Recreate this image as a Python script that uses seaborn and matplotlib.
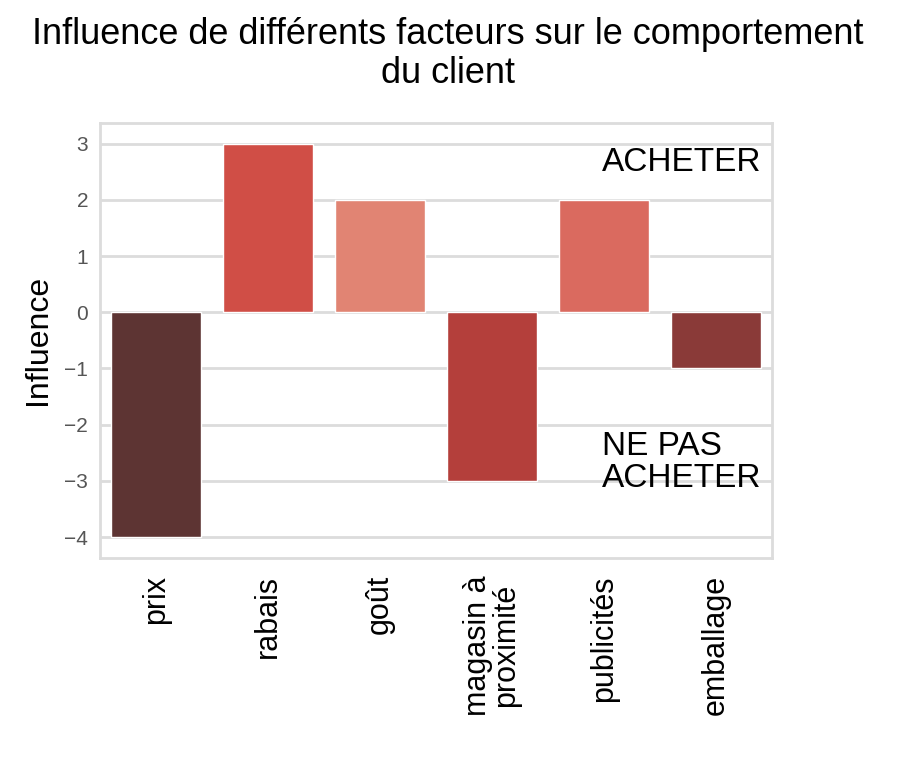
import pandas as pd
import matplotlib.pyplot as plt
import seaborn as sns

facteurs = ["prix", "rabais", "goût", "magasin à\nproximité", "publicités", "emballage"]
influence = [-4, 3, 2, -3, 2, -1]
couleurs = ["#5d3433", "#d04e46", "#e18473", "#b43f3b", "#da6a5f", "#8a3a38"]

df = pd.DataFrame({"facteur": facteurs, "influence": influence})

sns.set_style("whitegrid", {"grid.color": "#dcdcdc", "axes.edgecolor": "#dcdcdc",
                            "text.color": "black", "axes.labelcolor": "black"})
plt.rcParams["font.family"] = ["Liberation Sans", "DejaVu Sans"]

fig = plt.figure(figsize=(9, 7.78), dpi=100)
ax = fig.add_axes([0.111, 0.283, 0.747, 0.559])

sns.barplot(data=df, x="facteur", y="influence", hue="facteur",
            palette=dict(zip(facteurs, couleurs)), legend=False, ax=ax,
            width=0.8, saturation=1)

ax.grid(True, axis="y", linewidth=2)
ax.grid(False, axis="x")
for s in ax.spines.values():
    s.set_linewidth(2)
ax.set_xlim(-0.5, 5.5)
ax.set_ylim(-4.37, 3.37)
ax.set_yticks(range(-4, 4))

ax.tick_params(axis="y", labelsize=15, labelcolor="#555555", pad=5)
ax.tick_params(axis="x", labelsize=22, labelcolor="black", pad=9)
plt.setp(ax.get_xticklabels(), rotation=90, linespacing=0.9)
ax.set_xlabel("")
ax.set_ylabel("Influence", fontsize=23, labelpad=8)

ax.text(3.98, 2.67, "ACHETER", fontsize=24, va="center", ha="left")
ax.text(3.98, -2.67, "NE PAS\nACHETER", fontsize=24, va="center", ha="left", linespacing=1.05)

fig.text(0.498, 0.978, "Influence de différents facteurs sur le comportement\ndu client",
         ha="center", va="top", fontsize=26, linespacing=1.15)

fig.savefig("out.png", dpi=100)
